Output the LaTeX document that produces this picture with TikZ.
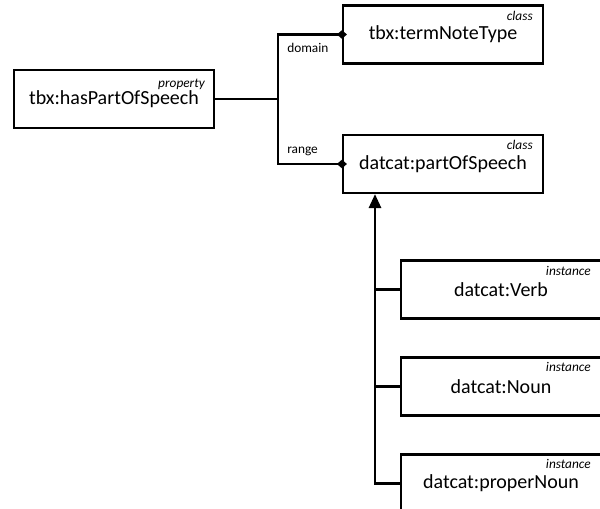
\documentclass[tikz,border=0pt]{standalone}
\usepackage{fontspec}
\setmainfont{Carlito}
\usetikzlibrary{arrows.meta}
\begin{document}
\begin{tikzpicture}[x=0.75pt,y=-0.75pt,
 box/.style={draw, line width=1.6pt, minimum width=150pt, minimum height=43.5pt, inner sep=0pt, font=\fontsize{15}{18}\selectfont},
 tag/.style={font=\fontsize{10}{12}\selectfont\itshape, inner sep=0pt, anchor=east},
 lbl/.style={font=\fontsize{10}{12}\selectfont, inner sep=0pt, anchor=west},
 conn/.style={line width=2.1pt},
 dmd/.style={-{Diamond[length=7.5pt,width=6.5pt]}, shorten >=-3.75pt},
 tri/.style={-{Triangle[length=10.5pt,width=9pt]}}]
\clip (0,0) rectangle (600,509);
\node[box] (hp) at (114,99) {tbx:hasPartOfSpeech};
\node[tag] (hpt) at (205,84) {property};
\node[box] (tn) at (443,34.5) {tbx:termNoteType};
\node[tag] (tnt) at (533,16) {class};
\node[box] (ps) at (443,164) {datcat:partOfSpeech};
\node[tag] (pst) at (533,145) {class};
\node[box] (vb) at (501,289.5) {datcat:Verb};
\node[tag] (vbt) at (591,271) {instance};
\node[box] (nn) at (501,386.5) {datcat:Noun};
\node[tag] (nnt) at (591,367) {instance};
\node[box] (pn) at (501,483.5) {datcat:properNoun};
\node[tag] (pnt) at (591,464) {instance};
\coordinate (j) at (278,99);
\coordinate (bus) at (375,193);
\draw[conn] (hp.east) -- (j);
\draw[conn,dmd] (j) |- (tn.west);
\draw[conn,dmd] (j) |- (ps.west);
\node[lbl] (dl) at (287,48) {domain};
\node[lbl] (rl) at (287,151) {range};
\draw[conn,tri] (pn.west) -| (bus |- ps.south);
\draw[conn] (vb.west) -- (vb.west -| bus);
\draw[conn] (nn.west) -- (nn.west -| bus);
\end{tikzpicture}
\end{document}
